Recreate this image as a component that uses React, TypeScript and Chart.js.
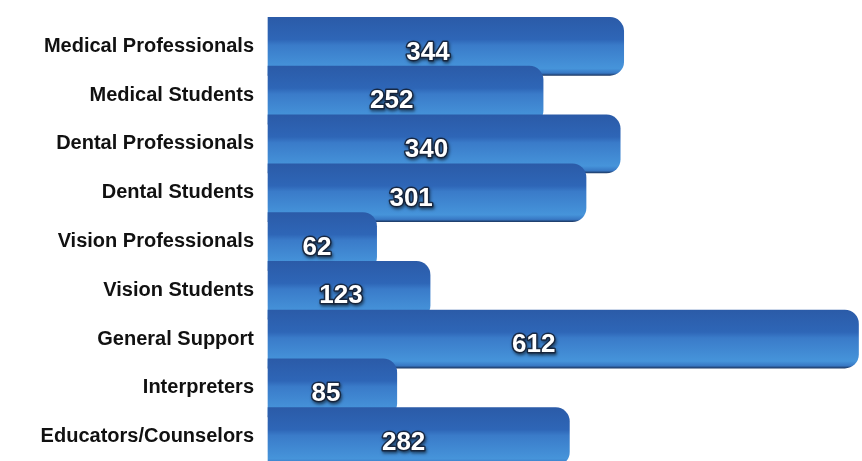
import React, { useEffect, useRef } from "react";
import { Chart, registerables } from "chart.js";

Chart.register(...registerables);

const categories = [
  "Medical Professionals",
  "Medical Students",
  "Dental Professionals",
  "Dental Students",
  "Vision Professionals",
  "Vision Students",
  "General Support",
  "Interpreters",
  "Educators/Counselors",
];
const counts = [344, 252, 340, 301, 62, 123, 612, 85, 282];

// visual depth of the 3D bar caps, expressed in axis units
const AXIS_MIN = -62;
const AXIS_MAX = 616;

const valueLabelPlugin = {
  id: "valueLabels",
  afterDatasetsDraw(chart: any) {
    const c = chart.ctx;
    const meta = chart.getDatasetMeta(0);
    c.save();
    c.font = "bold 26px 'Liberation Sans', Arial, sans-serif";
    c.textAlign = "center";
    c.textBaseline = "middle";
    meta.data.forEach((bar: any, i: number) => {
      const v = chart.data.datasets[0].data[i];
      const x = bar.base + Math.max(30, (bar.x - bar.base) * 0.45);
      const y = bar.y + 6;
      c.lineJoin = "round";
      c.shadowColor = "rgba(0,0,0,0.6)";
      c.shadowBlur = 3;
      c.shadowOffsetX = 1;
      c.shadowOffsetY = 2;
      c.strokeStyle = "rgba(20,30,50,0.85)";
      c.lineWidth = 3;
      c.strokeText(String(v), x, y);
      c.shadowColor = "transparent";
      c.fillStyle = "#ffffff";
      c.fillText(String(v), x, y);
    });
    c.restore();
  },
};

export default function App() {
  const ref = useRef<HTMLCanvasElement | null>(null);
  useEffect(() => {
    document.body.style.margin = "0";
    document.body.style.background = "#ffffff";
    const canvas = ref.current!;
    const chart = new Chart(canvas, {
      type: "bar",
      data: {
        labels: categories,
        datasets: [
          {
            data: counts,
            base: AXIS_MIN,
            clip: false,
            backgroundColor: (ctx: any) => {
              const ch = ctx.chart;
              const ys = ch.scales && ch.scales.y;
              if (!ys) return "#3a7fcf";
              const yc = ys.getPixelForValue(ctx.dataIndex);
              if (!Number.isFinite(yc)) return "#3a7fcf";
              const g = ch.ctx.createLinearGradient(0, yc - 29, 0, yc + 29);
              g.addColorStop(0, "#2b5ba8");
              g.addColorStop(0.38, "#2e66b7");
              g.addColorStop(0.48, "#3a7bc9");
              g.addColorStop(0.88, "#4694da");
              g.addColorStop(0.96, "#3878c4");
              g.addColorStop(1, "#1d3a66");
              return g;
            },
            borderRadius: 14,
            borderSkipped: "start",
            barThickness: 58,
          },
        ],
      },
      options: {
        indexAxis: "y",
        animation: false,
        responsive: false,
        maintainAspectRatio: false,
        layout: { padding: { top: 22, bottom: 0, right: 0, left: 0 } },
        plugins: {
          legend: { display: false },
          tooltip: { enabled: false },
        },
        scales: {
          x: {
            display: false,
            min: AXIS_MIN,
            max: AXIS_MAX,
            grid: { display: false },
          },
          y: {
            grid: { display: false, drawTicks: false },
            border: { display: false },
            ticks: {
              color: "#111111",
              padding: 14,
              font: { family: "'Liberation Sans', Arial, sans-serif", size: 20, weight: "bold" },
            },
            afterFit(scale: any) {
              scale.width = 268;
              scale.paddingTop = 0;
              scale.paddingBottom = 0;
            },
          },
        },
      } as any,
      plugins: [valueLabelPlugin],
    });
    return () => chart.destroy();
  }, []);
  return <canvas ref={ref} width={862} height={461} style={{ display: "block" }} />;
}
